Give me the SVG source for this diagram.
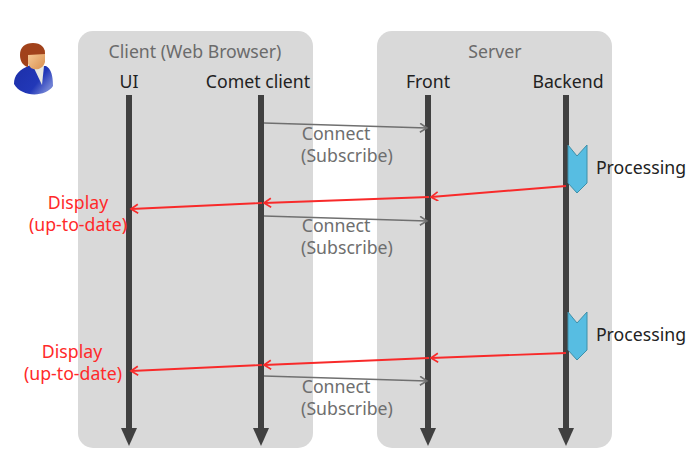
<svg xmlns="http://www.w3.org/2000/svg" width="699" height="463" viewBox="0 0 699 463">
<style>
text{font-family:"Noto Sans","Open Sans",sans-serif;font-size:17.7px;text-anchor:middle}
.panel{fill:#d9d9d9}
.title{fill:#6b6b6b}
.head{fill:#222}
.gray{fill:#6e6e6e}
.red{fill:#ff2a2a}
.life{stroke:#404040;stroke-width:6;fill:none}
.tip{fill:#404040}
.conn{stroke:#6f6f6f;stroke-width:1.7;fill:none;marker-end:url(#ga)}
.msg{stroke:#f82a2a;stroke-width:1.9;fill:none;marker-end:url(#rh)}
.proc{fill:#57bde2;stroke:#3e8fa8;stroke-width:1}
</style>
<defs>
<marker id="ga" markerUnits="userSpaceOnUse" markerWidth="10" markerHeight="12" refX="8" refY="5" orient="auto"><path d="M1 0.5L8 5L1 9.5" fill="none" stroke="#6f6f6f" stroke-width="1.6"/></marker>
<marker id="rh" markerUnits="userSpaceOnUse" markerWidth="10" markerHeight="12" refX="8" refY="5" orient="auto"><path d="M1 0.5L8 5L1 9.5" fill="none" stroke="#f82a2a" stroke-width="1.7"/></marker>
<linearGradient id="suit" x1="0" y1="0" x2="1" y2="0.6"><stop offset="0" stop-color="#1c2fa8"/><stop offset="0.7" stop-color="#2238b8"/><stop offset="1" stop-color="#6f80d4"/></linearGradient>
<linearGradient id="face" x1="0" y1="0" x2="1" y2="1"><stop offset="0" stop-color="#f9cf9c"/><stop offset="1" stop-color="#d98f4e"/></linearGradient>
</defs>
<g id="person">
<path d="M14 84C14 75 19 70 30 65L36 66L46 66C51 69 53 75 53 86C46 97 22 98 14 84Z" fill="url(#suit)"/>
<path d="M33 66L42 85L44 66Z" fill="#e8e8e0"/>
<path d="M28 50H45V62C43 69 36 71 31 68L28 64Z" fill="url(#face)"/>
<path d="M20 55C20 47 25 43 33 43C41 43 45 47 45 54L28 55L28 67C23 66 20 61 20 55Z" fill="#a1421b"/>
</g>
<g id="client"><rect class="panel" x="78" y="31" width="235" height="417" rx="15"/><text class="title" x="195" y="58">Client (Web Browser)</text></g>
<g id="server"><rect class="panel" x="377" y="31" width="235" height="417" rx="15"/><text class="title" x="495" y="58">Server</text></g>
<g id="connectors">
<path class="life" d="M129 95V430"/><path class="tip" d="M121 428H137L129 446Z"/>
<path class="life" d="M261 95V430"/><path class="tip" d="M253 428H269L261 446Z"/>
<path class="life" d="M428 95V430"/><path class="tip" d="M420 428H436L428 446Z"/>
<path class="life" d="M566 95V430"/><path class="tip" d="M558 428H574L566 446Z"/>
<path class="conn" d="M264 123L427 128"/>
<path class="conn" d="M264 216L427 221"/>
<path class="conn" d="M264 376L427 381"/>
<path class="msg" d="M566 186L431 197"/>
<path class="msg" d="M429 197L264 203"/>
<path class="msg" d="M262 203L131 209"/>
<path class="msg" d="M566 353L431 358"/>
<path class="msg" d="M429 358L264 365"/>
<path class="msg" d="M262 365L131 371"/>
</g>
<g id="ui"><text class="head" x="129" y="87.5">UI</text></g>
<g id="comet"><text class="head" x="258" y="87.5">Comet client</text></g>
<g id="front"><text class="head" x="428" y="87.5">Front</text></g>
<g id="backend"><text class="head" x="568" y="87.5">Backend</text></g>
<g id="proc1"><path class="proc" d="M568 145L577 156L587 145V183L577 193L568 183Z"/><text class="head" x="641" y="173.5">Processing</text></g>
<g id="proc2"><path class="proc" d="M568 312L577 323L587 312V350L577 360L568 350Z"/><text class="head" x="641" y="340.5">Processing</text></g>
<g id="c1"><text class="gray" x="336" y="139.5">Connect</text><text class="gray" x="347" y="161.5">(Subscribe)</text></g>
<g id="c2"><text class="gray" x="336" y="231.5">Connect</text><text class="gray" x="347" y="253.5">(Subscribe)</text></g>
<g id="c3"><text class="gray" x="336" y="392.5">Connect</text><text class="gray" x="347" y="414.5">(Subscribe)</text></g>
<g id="d1"><text class="red" x="78" y="208.5">Display</text><text class="red" x="78" y="230.5">(up-to-date)</text></g>
<g id="d2"><text class="red" x="72" y="357.5">Display</text><text class="red" x="73" y="379.5">(up-to-date)</text></g>
</svg>
